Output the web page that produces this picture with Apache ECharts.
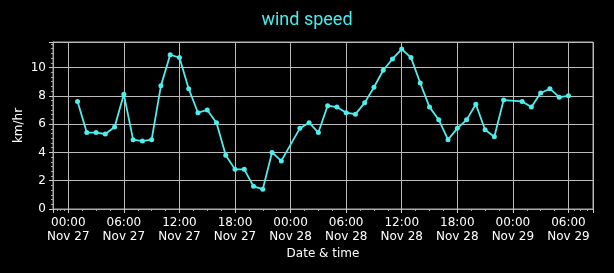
<!DOCTYPE html>
<html><head><meta charset="utf-8">
<script src="https://cdn.jsdelivr.net/npm/echarts@6/dist/echarts.min.js"></script>
<style>html,body{margin:0;padding:0;background:#000;}#c{width:614px;height:273px;}</style>
</head><body><div id="c"></div>
<script>
const times = [
 '2024-11-27 01:00','2024-11-27 02:00','2024-11-27 03:00','2024-11-27 04:00','2024-11-27 05:00','2024-11-27 06:00',
 '2024-11-27 07:00','2024-11-27 08:00','2024-11-27 09:00','2024-11-27 10:00','2024-11-27 11:00','2024-11-27 12:00',
 '2024-11-27 13:00','2024-11-27 14:00','2024-11-27 15:00','2024-11-27 16:00','2024-11-27 17:00','2024-11-27 18:00',
 '2024-11-27 19:00','2024-11-27 20:00','2024-11-27 21:00','2024-11-27 22:00','2024-11-27 23:00',
 '2024-11-28 01:00','2024-11-28 02:00','2024-11-28 03:00','2024-11-28 04:00','2024-11-28 05:00','2024-11-28 06:00',
 '2024-11-28 07:00','2024-11-28 08:00','2024-11-28 09:00','2024-11-28 10:00','2024-11-28 11:00','2024-11-28 12:00',
 '2024-11-28 13:00','2024-11-28 14:00','2024-11-28 15:00','2024-11-28 16:00','2024-11-28 17:00','2024-11-28 18:00',
 '2024-11-28 19:00','2024-11-28 20:00','2024-11-28 21:00','2024-11-28 22:00','2024-11-28 23:00',
 '2024-11-29 01:00','2024-11-29 02:00','2024-11-29 03:00','2024-11-29 04:00','2024-11-29 05:00','2024-11-29 06:00'
];
const windSpeed = [
 7.6,5.4,5.4,5.3,5.8,8.1,
 4.9,4.8,4.9,8.7,10.9,10.7,
 8.5,6.8,7.0,6.1,3.8,2.8,
 2.8,1.6,1.4,4.0,3.4,
 5.7,6.1,5.4,7.3,7.2,6.8,
 6.7,7.5,8.6,9.8,10.6,11.3,
 10.7,8.9,7.2,6.3,4.9,5.7,
 6.3,7.4,5.6,5.1,7.7,
 7.6,7.2,8.2,8.5,7.9,8.0
];
const xMin = '2024-11-26 22:21';
const xMax = '2024-11-29 08:39';
const yMin = 0, yMax = 11.8, yInterval = 2;
const titleText = 'wind speed';
const xName = 'Date & time';
const yName = 'km/hr';
const months = ['Jan','Feb','Mar','Apr','May','Jun','Jul','Aug','Sep','Oct','Nov','Dec'];

function pad(n){return (n<10?'0':'')+n;}
const chart = echarts.init(document.getElementById('c'));
const font = 'DejaVu Sans';
chart.setOption({
  backgroundColor:'#000',
  animation:false,
  title:{text:titleText,left:'center',top:6,textStyle:{color:'#45eeee',fontSize:18,fontWeight:'normal',fontFamily:'Roboto'}},
  grid:{left:53,right:21,top:42,bottom:64,show:true,borderColor:'#aaa',borderWidth:1,backgroundColor:'#000'},
  xAxis:{type:'time',min:xMin,max:xMax,splitNumber:8,
    name:xName,nameLocation:'middle',nameGap:39,nameMoveOverlap:false,nameTextStyle:{color:'#fff',fontSize:12,fontFamily:font},
    axisLine:{show:true,lineStyle:{color:'#aaa'}},
    axisTick:{show:true,length:4,lineStyle:{color:'#ccc'}},
    minorTick:{show:true,splitNumber:4,length:2,lineStyle:{color:'#aaa'}},
    splitLine:{show:true,lineStyle:{color:'#bbb',width:1}},
    axisLabel:{color:'#fff',fontSize:12,fontFamily:font,lineHeight:14,margin:7,hideOverlap:false,
      formatter:function(v){const d=new Date(v);return pad(d.getHours())+':'+pad(d.getMinutes())+'\n'+months[d.getMonth()]+' '+d.getDate();}}
  },
  yAxis:{type:'value',min:yMin,max:yMax,interval:yInterval,
    name:yName,nameLocation:'middle',nameGap:28,nameMoveOverlap:false,nameTextStyle:{color:'#fff',fontSize:12,fontFamily:font},
    axisLine:{show:true,lineStyle:{color:'#aaa'}},
    axisTick:{show:true,length:4,lineStyle:{color:'#ccc'}},
    minorTick:{show:true,splitNumber:6,length:2,lineStyle:{color:'#aaa'}},
    splitLine:{show:true,lineStyle:{color:'#bbb',width:1}},
    axisLabel:{color:'#fff',fontSize:12,fontFamily:font,margin:7,showMaxLabel:false,
      formatter:function(v){return (v%2===0)?String(v):'';}}
  },
  series:[{type:'line',data:times.map((t,i)=>[t,windSpeed[i]]),
    symbol:'circle',symbolSize:5,showSymbol:true,
    lineStyle:{color:'#4feeee',width:1.8},itemStyle:{color:'#4feeee'}}]
});
</script></body></html>
